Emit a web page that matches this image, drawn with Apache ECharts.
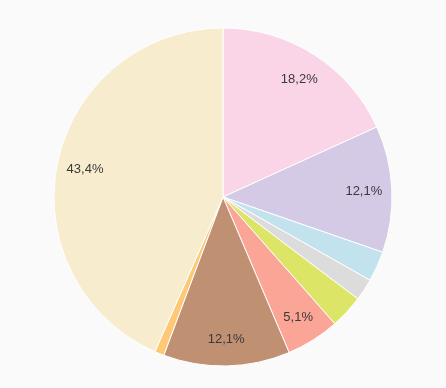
<!DOCTYPE html>
<html><head><meta charset="utf-8">
<script src="https://cdn.jsdelivr.net/npm/echarts@6/dist/echarts.min.js"></script>
<style>html,body{margin:0;padding:0;background:#fafafa;}#c{width:446px;height:388px;}</style>
</head><body><div id="c"></div>
<script>
const categories = ['A','B','C','D','E','F','G','H','I'];
const values = [18.2, 12.1, 2.9, 2.1, 3.2, 5.1, 12.1, 0.9, 43.4];
const colors = ['#fad4e7','#d5cae6','#c2e3ee','#dcdcdc','#dde566','#fba597','#bf9172','#fdc976','#f7ecce'];
const labelMin = 5;

const data = categories.map((c,i)=>({name:c, value:values[i], itemStyle:{color:colors[i]}}));
const chart = echarts.init(document.getElementById('c'));
chart.setOption({
  backgroundColor:'#fafafa',
  animation:false,
  series:[
    {type:'pie', center:[223,197], radius:[0,169], startAngle:90, clockwise:true,
     data:data, label:{show:false}, labelLine:{show:false},
     itemStyle:{borderColor:'#ffffff', borderWidth:1}, silent:true},
    {type:'pie', center:[223,198], radius:[106,170], startAngle:90, clockwise:true,
     data:categories.map((c,i)=>({name:c, value:values[i]})),
     itemStyle:{color:'rgba(0,0,0,0)', borderWidth:0}, silent:true,
     labelLine:{show:false},
     label:{show:true, position:'inside', color:'#3a3a3a', fontSize:13, fontFamily:'Liberation Sans, Arial, sans-serif',
       formatter:p=> p.value>=labelMin ? p.value.toFixed(1).replace('.',',')+'%' : ''}}
  ]
});
</script></body></html>
